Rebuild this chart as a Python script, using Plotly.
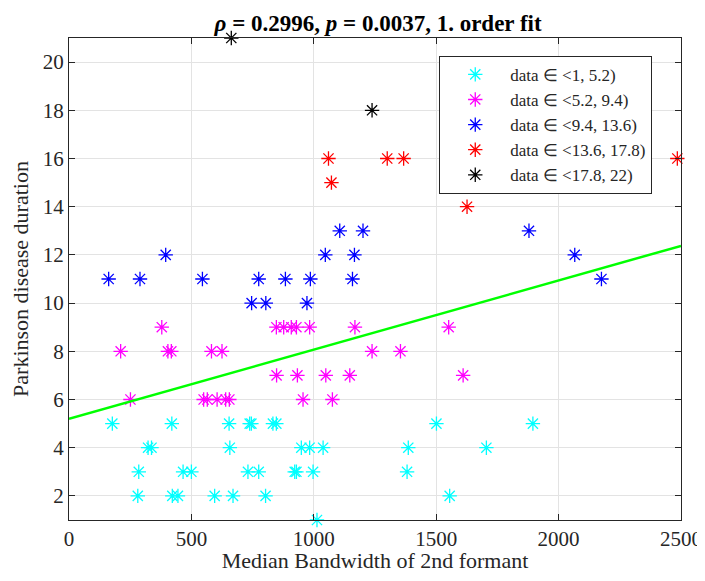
import plotly.graph_objects as go

# cluster 1: data in <1, 5.2)
cyan_x = [177, 420, 654, 738, 745, 833, 847, 1501, 1895,
          323, 337, 657, 949, 983, 1038, 1386, 1705,
          285, 466, 500, 731, 775, 922, 929, 997, 1381,
          281, 422, 445, 595, 670, 803, 1555,
          1013]
cyan_y = [5, 5, 5, 5, 5, 5, 5, 5, 5,
          4, 4, 4, 4, 4, 4, 4, 4,
          3, 3, 3, 3, 3, 3, 3, 3, 3,
          2, 2, 2, 2, 2, 2, 2,
          1]

# cluster 2: data in <5.2, 9.4)
magenta_x = [379, 847, 877, 908, 929, 983, 1168, 1551,
             211, 404, 418, 582, 625, 1238, 1354,
             848, 933, 1049, 1147, 1610,
             251, 550, 565, 605, 640, 655, 956, 1076]
magenta_y = [9, 9, 9, 9, 9, 9, 9, 9,
             8, 8, 8, 8, 8, 8, 8,
             7, 7, 7, 7, 7,
             6, 6, 6, 6, 6, 6, 6, 6]

# cluster 3: data in <9.4, 13.6)
blue_x = [1106, 1201, 1879,
          395, 1047, 1166, 2066,
          162, 290, 545, 775, 884, 986, 1158, 2175,
          746, 804, 972]
blue_y = [13, 13, 13,
          12, 12, 12, 12,
          11, 11, 11, 11, 11, 11, 11, 11,
          10, 10, 10]

# cluster 4: data in <13.6, 17.8)
red_x = [1060, 1300, 1367, 2485, 1072, 1626]
red_y = [16, 16, 16, 16, 15, 14]

# cluster 5: data in <17.8, 22)
black_x = [663, 1238]
black_y = [21, 18]

groups = [
    ('data ∈ <1, 5.2)', cyan_x, cyan_y, '#00FFFF'),
    ('data ∈ <5.2, 9.4)', magenta_x, magenta_y, '#FF00FF'),
    ('data ∈ <9.4, 13.6)', blue_x, blue_y, '#0000FF'),
    ('data ∈ <13.6, 17.8)', red_x, red_y, '#FF0000'),
    ('data ∈ <17.8, 22)', black_x, black_y, '#000000'),
]

# 1st order fit
fit_intercept = 5.2
fit_slope = 0.00287
fit_x = [0, 2500]

font_family = 'Liberation Serif'
txt_color = '#262626'

fig = go.Figure()
for name, xs, ys, col in groups:
    fig.add_trace(go.Scatter(
        x=xs, y=ys, mode='markers', name=name, cliponaxis=False,
        marker=dict(symbol='asterisk-open', size=12, color=col,
                    line=dict(color=col, width=1.3))
    ))

fig.add_trace(go.Scatter(
    x=fit_x, y=[fit_intercept + fit_slope * v for v in fit_x],
    mode='lines', line=dict(color='#00FF00', width=2.5), showlegend=False
))

axis_common = dict(
    showgrid=True, gridcolor='#e3e3e3', gridwidth=1,
    showline=True, linecolor='#262626', linewidth=1,
    mirror='allticks', ticks='inside', ticklen=6, tickcolor='#262626',
    zeroline=False, automargin=False, ticklabeloverflow='allow',
    tickfont=dict(family=font_family, size=21, color=txt_color),
)

# page body has an 8px margin, figure is sized so the page doesn't scroll
fig.update_xaxes(range=[0, 2500], dtick=500,
                 title=dict(text='Median Bandwidth of 2nd formant', standoff=8,
                            font=dict(family=font_family, size=22, color=txt_color)),
                 **axis_common)
fig.update_yaxes(range=[1, 21], tickvals=[2, 4, 6, 8, 10, 12, 14, 16, 18, 20],
                 title=dict(text='Parkinson disease duration', standoff=12,
                            font=dict(family=font_family, size=22, color=txt_color)),
                 **axis_common)

fig.update_layout(
    width=697, height=565,
    margin=dict(l=61, r=24, t=30, b=53),
    paper_bgcolor='white', plot_bgcolor='white',
    title=dict(text='<b><i>ρ</i> = 0.2996, <i>p</i> = 0.0037, 1. order fit</b>',
               x=0.531, xanchor='center', y=0.973, yanchor='middle',
               font=dict(family=font_family, size=23, color='black')),
    legend=dict(x=0.605, y=0.963, xanchor='left', yanchor='top',
                bgcolor='white', bordercolor='#262626', borderwidth=1,
                font=dict(family=font_family, size=17, color=txt_color),
                itemwidth=60, tracegroupgap=0),
)

fig.write_html("out.html")
